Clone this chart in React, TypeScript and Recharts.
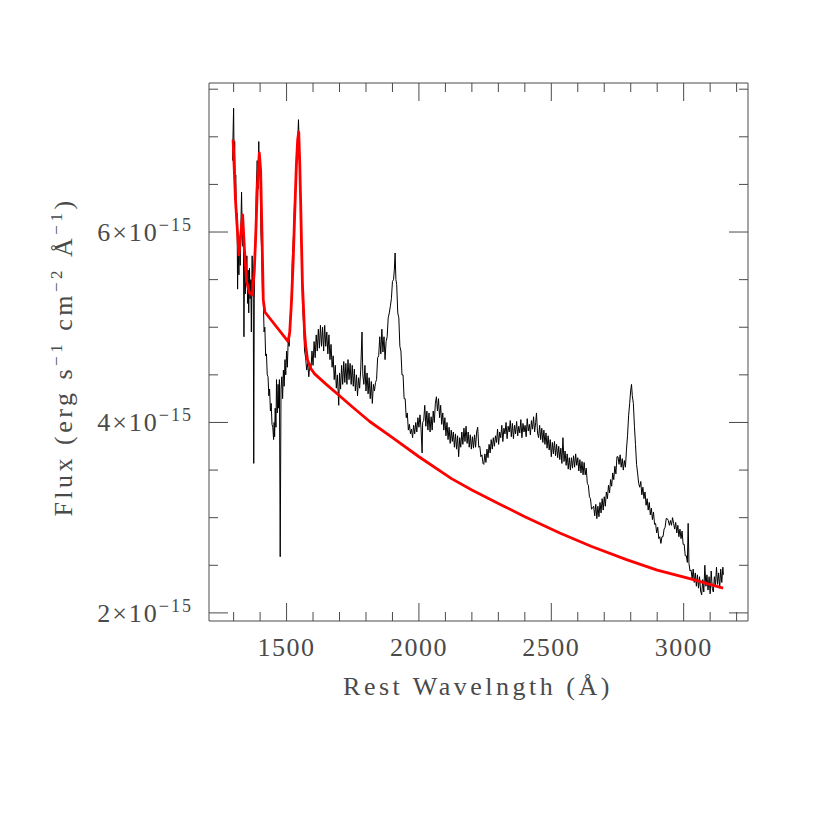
import { LineChart, Line, XAxis, YAxis } from 'recharts';

// observed spectrum (flux in units of 1e-15 erg/s/cm^2/A)
const WAVE = [
  1296, 1298, 1300, 1302, 1304, 1306, 1308, 1311, 1313, 1315, 1317, 1320, 1322, 1325, 1327, 1330, 1332, 1335, 1337, 1339,
  1341, 1344, 1346, 1348, 1350, 1353, 1355, 1357, 1360, 1362, 1365, 1367, 1370, 1372, 1374, 1376, 1378, 1380, 1383, 1386,
  1389, 1392, 1395, 1397, 1400, 1403, 1406, 1409, 1412, 1415, 1418, 1421, 1424, 1427, 1430, 1433, 1436, 1439, 1442, 1445,
  1448, 1451, 1453, 1455, 1457, 1460, 1462, 1465, 1468, 1470, 1473, 1476, 1479, 1482, 1485, 1488, 1491, 1494, 1497, 1500,
  1503, 1506, 1510, 1514, 1518, 1522, 1526, 1530, 1534, 1538, 1542, 1545, 1548, 1551, 1554, 1557, 1560, 1564, 1568, 1572,
  1576, 1580, 1584, 1588, 1592, 1596, 1600, 1604, 1608, 1612, 1616, 1620, 1624, 1628, 1632, 1636, 1640, 1644, 1648, 1652,
  1656, 1660, 1664, 1668, 1672, 1676, 1680, 1684, 1688, 1692, 1697, 1700, 1704, 1708, 1712, 1716, 1720, 1724, 1728, 1732,
  1736, 1740, 1744, 1748, 1752, 1756, 1760, 1764, 1768, 1772, 1776, 1780, 1785, 1788, 1792, 1796, 1800, 1804, 1808, 1812,
  1816, 1820, 1824, 1828, 1832, 1836, 1840, 1844, 1848, 1852, 1856, 1860, 1864, 1868, 1872, 1876, 1880, 1884, 1888, 1892,
  1896, 1900, 1904, 1907, 1910, 1913, 1916, 1920, 1924, 1928, 1932, 1936, 1940, 1944, 1948, 1952, 1956, 1960, 1964, 1968,
  1972, 1976, 1980, 1984, 1988, 1992, 1996, 2000, 2004, 2008, 2012, 2014, 2018, 2022, 2026, 2030, 2034, 2038, 2042, 2046,
  2050, 2054, 2058, 2062, 2066, 2070, 2074, 2078, 2082, 2086, 2090, 2094, 2098, 2102, 2106, 2110, 2114, 2118, 2122, 2126,
  2130, 2134, 2138, 2142, 2146, 2150, 2154, 2158, 2162, 2166, 2170, 2174, 2178, 2182, 2186, 2190, 2194, 2198, 2202, 2206,
  2210, 2214, 2218, 2222, 2226, 2230, 2234, 2238, 2242, 2245, 2249, 2253, 2257, 2261, 2265, 2269, 2273, 2277, 2281, 2285,
  2289, 2293, 2297, 2301, 2305, 2309, 2313, 2317, 2321, 2325, 2329, 2333, 2337, 2341, 2345, 2349, 2353, 2357, 2361, 2365,
  2369, 2373, 2377, 2381, 2385, 2389, 2393, 2397, 2401, 2405, 2409, 2413, 2417, 2421, 2425, 2429, 2433, 2437, 2441, 2444,
  2448, 2452, 2456, 2460, 2464, 2468, 2472, 2476, 2480, 2484, 2488, 2492, 2496, 2500, 2504, 2508, 2512, 2516, 2520, 2524,
  2528, 2532, 2536, 2540, 2544, 2548, 2552, 2556, 2560, 2564, 2568, 2572, 2576, 2580, 2584, 2588, 2592, 2596, 2600, 2604,
  2608, 2612, 2616, 2620, 2624, 2628, 2632, 2636, 2640, 2644, 2648, 2652, 2656, 2660, 2664, 2668, 2672, 2676, 2680, 2684,
  2688, 2692, 2696, 2700, 2704, 2708, 2712, 2716, 2720, 2724, 2728, 2732, 2736, 2740, 2744, 2748, 2752, 2756, 2760, 2764,
  2768, 2772, 2776, 2780, 2784, 2788, 2792, 2796, 2800, 2803, 2806, 2810, 2814, 2818, 2822, 2826, 2830, 2834, 2838, 2842,
  2846, 2850, 2854, 2858, 2862, 2866, 2870, 2874, 2878, 2882, 2886, 2890, 2894, 2898, 2902, 2906, 2910, 2914, 2918, 2922,
  2926, 2930, 2934, 2938, 2942, 2946, 2950, 2954, 2958, 2962, 2966, 2970, 2974, 2978, 2982, 2986, 2990, 2994, 2998, 3002,
  3006, 3010, 3014, 3017, 3020, 3024, 3028, 3032, 3036, 3040, 3044, 3048, 3052, 3056, 3060, 3064, 3068, 3072, 3076, 3080,
  3084, 3088, 3092, 3096, 3100, 3104, 3108, 3112, 3116, 3120, 3124, 3128, 3132, 3136, 3140, 3144, 3148, 3150,
];
const FLUX = [
  6.75, 7.05, 7.3, 6.7, 6.95, 6.45, 6.6, 6.05, 6.2, 5.4, 5.85, 5.55, 5.9, 5.65, 6.0, 6.42, 6.1, 5.85, 5.95, 4.9,
  5.7, 5.35, 5.75, 5.45, 5.75, 5.25, 5.6, 5.15, 5.62, 5.3, 5.5, 4.95, 5.75, 5.4, 5.6, 3.57, 5.3, 5.7, 6.05, 6.5,
  6.75, 6.45, 6.95, 6.6, 6.7, 6.0, 5.8, 5.35, 5.3, 4.95, 5.0, 4.7, 4.72, 4.5, 4.48, 4.28, 4.35, 4.12, 4.2, 3.98,
  3.95, 3.82, 4.0, 3.85, 4.15, 3.95, 4.45, 4.1, 4.4, 4.15, 4.45, 2.59, 4.35, 4.48, 4.25, 4.55, 4.38, 4.66, 4.5, 4.75,
  4.58, 4.85, 4.8, 5.1, 5.3, 5.75, 5.95, 6.3, 6.45, 6.85, 6.95, 7.18, 6.9, 6.65, 6.05, 5.75, 5.25, 5.05, 4.75, 4.68,
  4.55, 4.62, 4.48, 4.62, 4.55, 4.75, 4.6, 4.85, 4.68, 4.92, 4.75, 4.98, 4.78, 5.02, 4.8, 5.0, 4.75, 5.02, 4.8, 4.95,
  4.72, 4.92, 4.66, 4.82, 4.58, 4.7, 4.45, 4.6, 4.36, 4.5, 4.18, 4.52, 4.35, 4.6, 4.4, 4.64, 4.42, 4.62, 4.4, 4.66,
  4.45, 4.62, 4.4, 4.6, 4.38, 4.56, 4.33, 4.5, 4.28, 4.47, 4.36, 4.55, 4.95, 4.5, 4.4, 4.6, 4.33, 4.52, 4.3, 4.47,
  4.25, 4.43, 4.2, 4.4, 4.33, 4.42, 4.45, 4.68, 4.7, 4.9, 4.72, 4.98, 4.74, 4.9, 4.66, 4.85, 4.9, 5.1, 5.15, 5.22,
  5.3, 5.48, 5.5, 5.6, 5.78, 5.5, 5.45, 5.15, 5.1, 4.8, 4.75, 4.5, 4.5, 4.25, 4.25, 4.05, 4.1, 3.92, 3.98, 3.88,
  3.93, 3.84, 3.97, 3.88, 4.0, 3.9, 4.05, 3.95, 4.08, 3.93, 3.68, 4.0, 4.02, 4.18, 3.96, 4.12, 3.92, 4.1, 3.9, 4.06,
  3.92, 4.12, 4.0, 4.2, 4.27, 4.12, 4.25, 4.05, 4.18, 3.98, 4.1, 3.92, 4.05, 3.86, 4.0, 3.82, 3.95, 3.78, 3.92, 3.8,
  3.9, 3.74, 3.88, 3.72, 3.86, 3.64, 3.84, 3.74, 3.9, 3.77, 3.94, 3.8, 3.96, 3.78, 3.9, 3.74, 3.87, 3.72, 3.85, 3.73,
  3.87, 3.74, 3.9, 3.95, 3.74, 3.75, 3.64, 3.66, 3.57, 3.56, 3.67, 3.58, 3.72, 3.63, 3.77, 3.68, 3.82, 3.72, 3.84, 3.75,
  3.86, 3.79, 3.93, 3.77, 3.9, 3.84, 3.97, 3.8, 3.94, 3.88, 4.0, 3.83, 3.96, 3.9, 4.02, 3.85, 3.99, 3.83, 3.97, 3.88,
  4.01, 3.86, 3.96, 3.89, 4.03, 3.84, 3.99, 3.9, 3.97, 3.85, 4.04, 3.91, 3.98, 3.87, 4.02, 3.93, 4.06, 3.9, 4.0, 4.1,
  3.89, 3.84, 3.97, 3.82, 3.94, 3.79, 3.92, 3.77, 3.89, 3.73, 3.86, 3.71, 3.82, 3.64, 3.79, 3.67, 3.8, 3.65, 3.77, 3.63,
  3.75, 3.61, 3.73, 3.57, 3.84, 3.59, 3.7, 3.55, 3.67, 3.51, 3.63, 3.5, 3.63, 3.52, 3.65, 3.53, 3.67, 3.55, 3.63, 3.49,
  3.61, 3.47, 3.59, 3.45, 3.58, 3.45, 3.52, 3.36, 3.34, 3.22, 3.2, 3.09, 3.1, 3.12, 3.02, 3.14, 2.99, 3.12, 3.01, 3.16,
  3.05, 3.2, 3.08, 3.22, 3.12, 3.27, 3.2, 3.34, 3.26, 3.4, 3.33, 3.47, 3.4, 3.54, 3.46, 3.64, 3.64, 3.56, 3.66, 3.53,
  3.62, 3.5, 3.6, 3.53, 3.72, 3.86, 4.07, 4.2, 4.34, 4.4, 4.28, 4.2, 3.96, 3.77, 3.56, 3.47, 3.36, 3.32, 3.38, 3.24,
  3.32, 3.2, 3.27, 3.13, 3.2, 3.08, 3.16, 3.03, 3.1, 2.98, 3.06, 2.93, 2.94, 2.84, 2.9, 2.78, 2.8, 2.73, 2.8, 2.8,
  2.88, 2.9, 2.99, 2.99, 2.97, 2.92, 2.97, 2.92, 3.0, 2.94, 2.88, 2.95, 2.84, 2.92, 2.8, 2.88, 2.78, 2.86, 2.72, 2.72,
  2.6, 2.6, 2.53, 2.94, 2.52, 2.44, 2.45, 2.36, 2.46, 2.32, 2.42, 2.28, 2.4, 2.26, 2.38, 2.23, 2.19, 2.35, 2.22, 2.5,
  2.28, 2.4, 2.24, 2.38, 2.2, 2.44, 2.26, 2.22, 2.38, 2.28, 2.48, 2.3, 2.42, 2.26, 2.46, 2.32, 2.48, 2.4,
];

// fitted continuum + emission line model
const MODEL_WAVE = [
  1298, 1307, 1320, 1334, 1341, 1349, 1360, 1371, 1378, 1383, 1390, 1397, 1402, 1407, 1412, 1418, 1506, 1512, 1519, 1525,
  1530, 1537, 1542, 1546, 1550, 1553, 1557, 1560, 1564, 1568, 1572, 1579, 1591, 1606, 1650, 1700, 1750, 1814, 1900, 2000,
  2123, 2200, 2300, 2400, 2532, 2650, 2784, 2900, 3023, 3149,
];
const MODEL_FLUX = [
  6.97, 6.34, 5.76, 6.18, 5.81, 5.48, 5.36, 5.34, 5.6, 5.92, 6.5, 6.83, 6.65, 6.0, 5.29, 5.16, 4.85, 4.95, 5.29, 5.7,
  6.13, 6.7, 6.97, 7.05, 6.7, 6.34, 5.81, 5.45, 5.2, 4.95, 4.81, 4.66, 4.57, 4.51, 4.4, 4.28, 4.16, 4.01, 3.84, 3.64,
  3.41, 3.29, 3.15, 3.01, 2.84, 2.7, 2.56, 2.45, 2.36, 2.26,
];

const X_TICKS = [1300, 1400, 1500, 1600, 1700, 1800, 1900, 2000, 2100, 2200, 2300, 2400, 2500, 2600, 2700, 2800, 2900, 3000, 3100, 3200];
const X_LABELS = [1500, 2000, 2500, 3000];
const Y_TICKS = [2, 2.5, 3, 3.5, 4, 4.5, 5, 5.5, 6, 6.5, 7, 7.5];
const Y_LABELS = [2, 4, 6];

const spectrum = WAVE.map((w, i) => ({ w, f: FLUX[i] }));
const model = MODEL_WAVE.map((w, i) => ({ w, f: MODEL_FLUX[i] }));

const INK = '#4a4a4a';
const FONT = '"Liberation Serif", serif';

function BottomTick({ x, y, payload }: any) {
  const major = X_LABELS.includes(payload.value);
  return (
    <g>
      <line x1={x} x2={x} y1={y} y2={y - (major ? 18 : 9)} stroke={INK} />
      {major && (
        <text x={x} y={y + 35} textAnchor="middle" fill={INK} fontSize={26} letterSpacing={1.5} fontFamily={FONT}>
          {payload.value}
        </text>
      )}
    </g>
  );
}

function TopTick({ x, y, payload }: any) {
  const major = X_LABELS.includes(payload.value);
  return <line x1={x} x2={x} y1={y} y2={y + (major ? 18 : 9)} stroke={INK} />;
}

function LeftTick({ x, y, payload }: any) {
  const major = Y_LABELS.includes(payload.value);
  return (
    <g>
      <line x1={x} x2={x + (major ? 19 : 9)} y1={y} y2={y} stroke={INK} />
      {major && (
        <text x={x - 16} y={y + 9} textAnchor="end" fill={INK} fontSize={26} letterSpacing={2} fontFamily={FONT}>
          {payload.value}×10
          <tspan dy={-10} fontSize={18}>−15</tspan>
        </text>
      )}
    </g>
  );
}

function RightTick({ x, y, payload }: any) {
  const major = Y_LABELS.includes(payload.value);
  return <line x1={x} x2={x - (major ? 19 : 9)} y1={y} y2={y} stroke={INK} />;
}

const XTitle = () => (
  <text x={470} y={687} textAnchor="middle" fill={INK} fontSize={26} letterSpacing={3.5} fontFamily={FONT}>
    Rest Wavelngth (Å)
  </text>
);

const YTitle = () => (
  <text x={64} y={349} transform="rotate(-90, 64, 349)" textAnchor="middle" fill={INK} fontSize={26} letterSpacing={3.5} fontFamily={FONT}>
    Flux (erg s<tspan dy={-10} fontSize={17}>−1</tspan>
    <tspan dy={10}> cm</tspan>
    <tspan dy={-10} fontSize={17}>−2</tspan>
    <tspan dy={10}> Å</tspan>
    <tspan dy={-10} fontSize={17}>−1</tspan>
    <tspan dy={10}>)</tspan>
  </text>
);

export default function App() {
  return (
    <LineChart width={814} height={814} margin={{ top: 74, right: 73, bottom: 200, left: 200 }} style={{ fontFamily: FONT }}>
      <XAxis
        xAxisId="b"
        dataKey="w"
        type="number"
        domain={[1207, 3243]}
        allowDataOverflow
        ticks={X_TICKS}
        interval={0}
        height={1}
        tickSize={0}
        tickMargin={0}
        tickLine={false}
        axisLine={{ stroke: INK }}
        tick={<BottomTick />}
        label={XTitle}
      />
      <XAxis
        xAxisId="t"
        orientation="top"
        dataKey="w"
        type="number"
        domain={[1207, 3243]}
        allowDataOverflow
        ticks={X_TICKS}
        interval={0}
        height={1}
        tickSize={0}
        tickMargin={0}
        tickLine={false}
        axisLine={{ stroke: INK }}
        tick={<TopTick />}
      />
      <YAxis
        yAxisId="l"
        type="number"
        domain={[1.915, 7.565]}
        allowDataOverflow
        ticks={Y_TICKS}
        interval={0}
        width={1}
        tickSize={0}
        tickMargin={0}
        tickLine={false}
        axisLine={{ stroke: INK }}
        tick={<LeftTick />}
        label={YTitle}
      />
      <YAxis
        yAxisId="r"
        orientation="right"
        type="number"
        domain={[1.915, 7.565]}
        allowDataOverflow
        ticks={Y_TICKS}
        interval={0}
        width={1}
        tickSize={0}
        tickMargin={0}
        tickLine={false}
        axisLine={{ stroke: INK }}
        tick={<RightTick />}
      />
      <Line
        xAxisId="b"
        yAxisId="l"
        data={spectrum}
        dataKey="f"
        type="linear"
        stroke="#000"
        strokeWidth={1}
        dot={false}
        isAnimationActive={false}
      />
      <Line
        xAxisId="b"
        yAxisId="l"
        data={model}
        dataKey="f"
        type="linear"
        stroke="#ff0000"
        strokeWidth={2.8}
        strokeLinejoin="round"
        dot={false}
        isAnimationActive={false}
      />
    </LineChart>
  );
}
